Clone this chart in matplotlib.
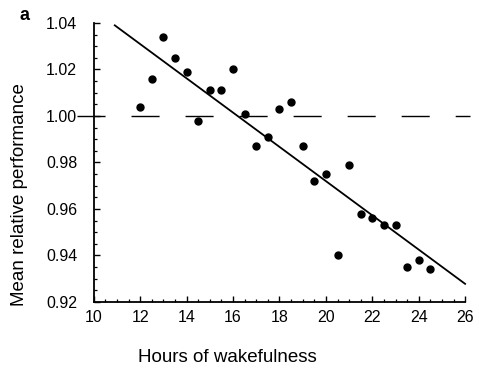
import numpy as np
import matplotlib
matplotlib.use("Agg")
import matplotlib.pyplot as plt

# ── Data ──────────────────────────────────────────────────────────────────────
hours = [12, 12.5, 13, 13.5, 14, 14.5, 15, 15.5, 16, 16.5, 17, 17.5, 18,
         18.5, 19, 19.5, 20, 20.5, 21, 21.5, 22, 22.5, 23, 23.5, 24, 24.5]
performance = [1.004, 1.016, 1.034, 1.025, 1.019, 0.998, 1.011, 1.011, 1.020,
               1.001, 0.987, 0.991, 1.003, 1.006, 0.987, 0.972, 0.975, 0.940,
               0.979, 0.958, 0.956, 0.953, 0.953, 0.935, 0.938, 0.934]
baseline = 1.00
x_ticks = [10, 12, 14, 16, 18, 20, 22, 24, 26]
y_ticks = [0.92, 0.94, 0.96, 0.98, 1.00, 1.02, 1.04]

plt.rcParams["font.family"] = ["Liberation Sans", "DejaVu Sans"]

fig = plt.figure(figsize=(4.79, 3.70), dpi=100)
ax = fig.add_axes([0.196, 0.184, 0.775, 0.754])

# regression line
slope, icpt = np.polyfit(hours, performance, 1)
xf = np.array([10.9, 26.0])
ax.plot(xf, slope * xf + icpt, color="black", lw=1.3, clip_on=False)

# baseline, starts left of the y axis and runs a bit past the end
ax.plot([-0.046, 1.013], [baseline, baseline], color="black", lw=1.0,
        dashes=(20.2, 18.7), clip_on=False, zorder=5,
        transform=ax.get_yaxis_transform())

ax.plot(hours, performance, "o", color="black", ms=5, clip_on=False)

ax.set_xlim(10, 26)
ax.set_ylim(0.92, 1.04)
ax.set_xticks(x_ticks)
ax.set_xticks(np.arange(10, 26.01, 0.5), minor=True)
ax.set_yticks(y_ticks)
ax.set_yticks(np.arange(0.92, 1.0401, 0.005), minor=True)
ax.set_xticklabels([str(t) for t in x_ticks])
ax.set_yticklabels([f"{t:.2f}" for t in y_ticks])

for s in ("top", "right"):
    ax.spines[s].set_visible(False)
for s in ("left", "bottom"):
    ax.spines[s].set_linewidth(1.3)

ax.tick_params(which="major", direction="in", length=4.5, width=1.0, labelsize=11.5)
ax.tick_params(axis="y", which="major", pad=12)
ax.tick_params(axis="x", which="major", pad=6)
ax.tick_params(which="minor", direction="in", length=2.5, width=0.9)

ax.set_xlabel("Hours of wakefulness", fontsize=13.5)
ax.xaxis.set_label_coords(0.36, -0.2)
ax.xaxis.label.set_va("center")
ax.set_ylabel("Mean relative performance", fontsize=13.5)
ax.yaxis.set_label_coords(-0.2, 0.384)
ax.yaxis.label.set_va("center")

fig.text(0.052, 0.958, "a", fontsize=13, fontweight="bold", ha="center", va="center")

fig.savefig("out.png", dpi=100)
